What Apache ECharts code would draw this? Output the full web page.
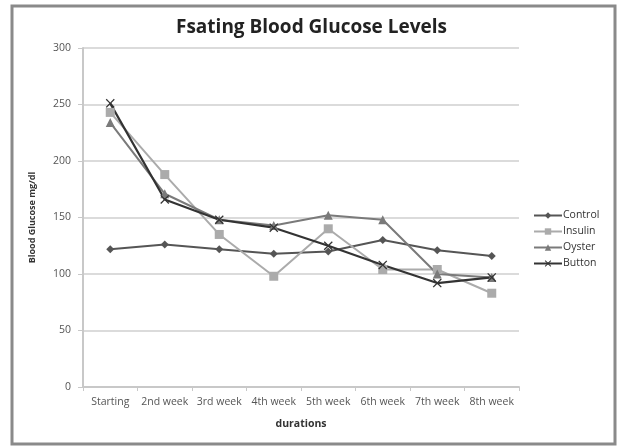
<!DOCTYPE html>
<html><head><meta charset="utf-8">
<script src="https://cdn.jsdelivr.net/npm/echarts@6/dist/echarts.min.js"></script>
<style>html,body{margin:0;padding:0;background:#fff}#c{width:623px;height:447px}</style>
</head><body><div id="c"></div>
<script>
const categories = ['Starting','2nd week','3rd week','4th week','5th week','6th week','7th week','8th week'];
const control = [122, 126, 122, 118, 120, 130, 121, 116];
const insulin = [243, 188, 135, 98, 140, 104, 104, 83];
const oyster = [234, 171, 148, 143, 152, 148, 100, 97];
const button = [251, 166, 148, 141, 125, 108, 92, 97];
const yTicks = [0, 50, 100, 150, 200, 250, 300];

const crossPath = 'path://M1,0L5,4L9,0L10,1L6,5L10,9L9,10L5,6L1,10L0,9L4,5L0,1Z';
const chart = echarts.init(document.getElementById('c'));
const font = '"Open Sans", "Liberation Sans", sans-serif';
function s(name, data, color, symbol, size, lw) {
  return { name, type: 'line', data, symbol, symbolSize: size, showSymbol: true,
    lineStyle: { color, width: lw }, itemStyle: { color }, z: 3 };
}
chart.setOption({
  animation: false,
  backgroundColor: '#fff',
  textStyle: { fontFamily: font },
  title: { text: 'Fsating Blood Glucose Levels', left: 'center', top: 13,
    textStyle: { fontSize: 19, fontWeight: 'bold', color: '#222', fontFamily: font } },
  graphic: [{ type: 'rect', shape: { x: 12, y: 6, width: 603, height: 438 },
    style: { fill: 'none', stroke: '#8a8a8a', lineWidth: 3 }, z: -1 }],
  legend: { orient: 'vertical', left: 528, top: 205, itemGap: 5, itemWidth: 28, itemHeight: 8,
    textStyle: { fontSize: 10.5, color: '#333', fontFamily: font, padding: [0,0,0,-4] },
    data: ['Control','Insulin','Oyster','Button'] },
  grid: { left: 83, right: 104, top: 48, bottom: 60, containLabel: false },
  xAxis: { type: 'category', data: categories, boundaryGap: true,
    name: 'durations', nameLocation: 'middle', nameGap: 32,
    nameTextStyle: { fontSize: 10.5, fontWeight: 'bold', color: '#333' },
    axisLine: { lineStyle: { color: '#c8c8c8', width: 2 } },
    axisTick: { show: true, alignWithLabel: false, length: 4, lineStyle: { color: '#c8c8c8' } },
    axisLabel: { fontSize: 10.5, color: '#555', margin: 10, interval: 0 } },
  yAxis: { type: 'value', min: 0, max: 300, interval: 50,
    name: 'Blood Glucose mg/dl', nameLocation: 'middle', nameGap: 46, nameRotate: 90,
    nameTextStyle: { fontSize: 9, fontWeight: 'bold', color: '#333' },
    axisLine: { show: true, lineStyle: { color: '#c8c8c8', width: 2 } },
    axisTick: { show: true, length: 5, inside: false, lineStyle: { color: '#c8c8c8' } },
    splitLine: { lineStyle: { color: '#cfcfcf', width: 1.5 } },
    axisLabel: { fontSize: 10.5, color: '#555', margin: 12,
      formatter: v => yTicks.includes(v) ? String(v) : '' } },
  series: [
    s('Control', control, '#555555', 'diamond', 8, 2),
    s('Insulin', insulin, '#ababab', 'rect', 9, 2),
    s('Oyster', oyster, '#7a7a7a', 'triangle', 9, 2),
    s('Button', button, '#333333', crossPath, 9, 2.2)
  ]
});
</script></body></html>
